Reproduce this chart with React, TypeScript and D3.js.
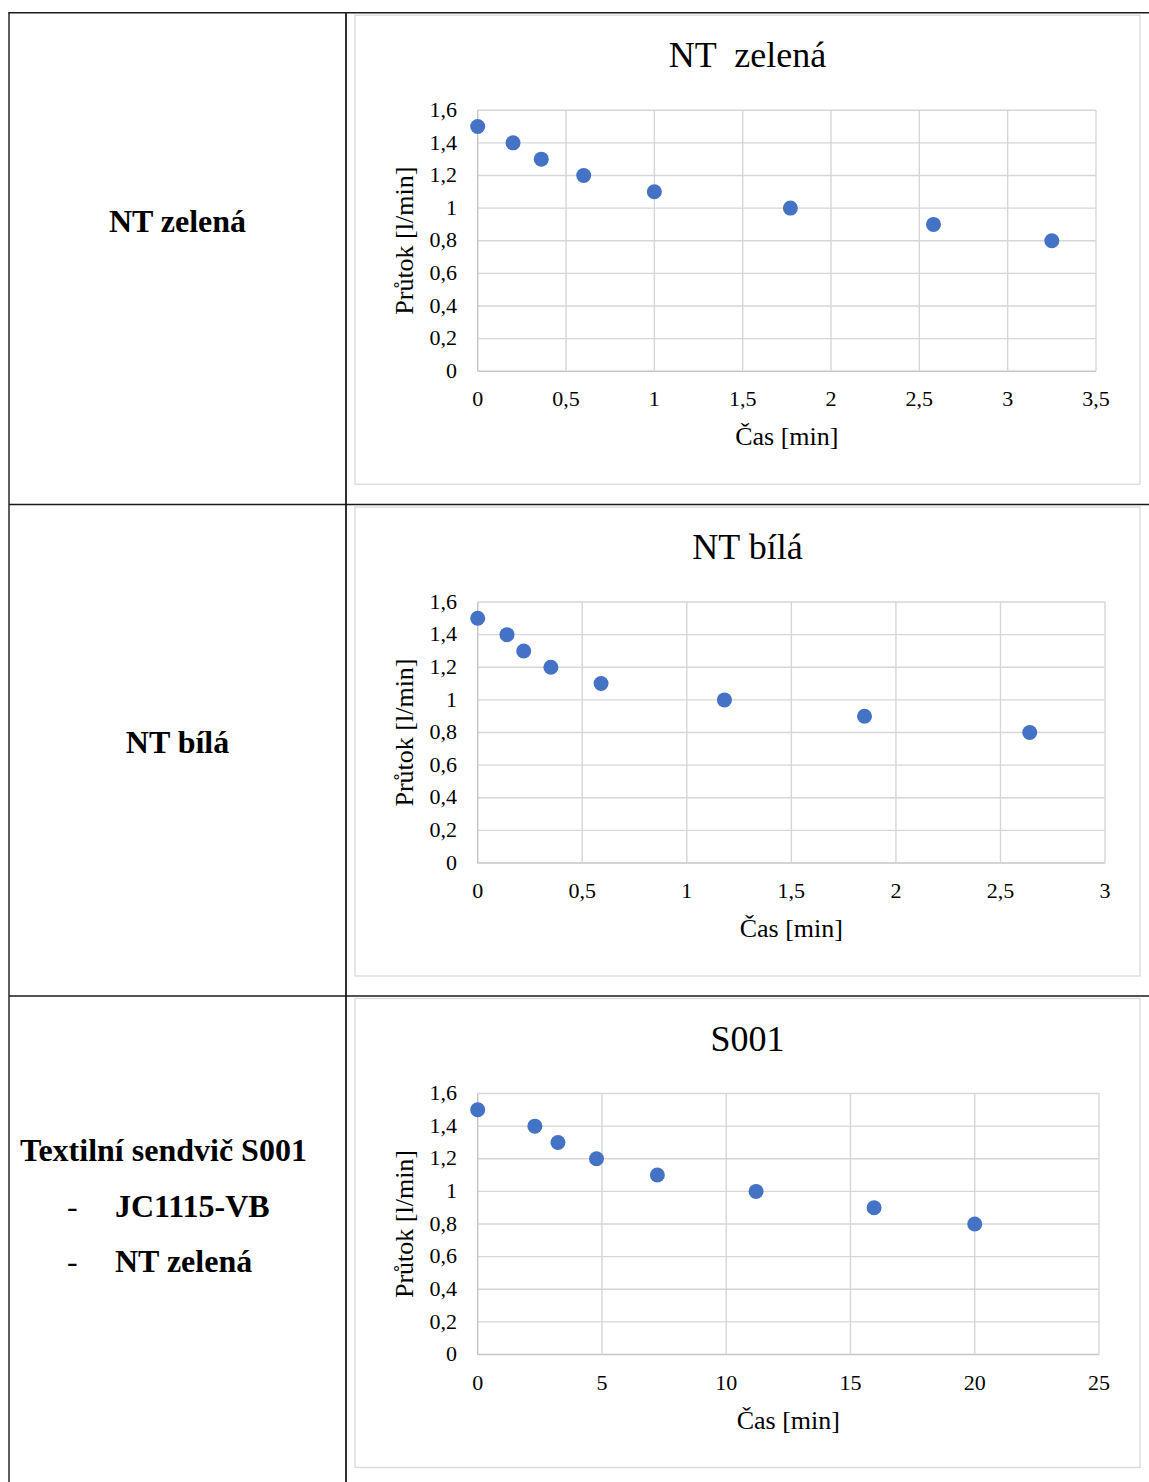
import React from "react";
import * as d3 from "d3";

// ---- data ----
const rowLabels = ["NT zelená", "NT bílá", "Textilní sendvič S001"];
const row3SubItems = ["JC1115-VB", "NT zelená"];

const chartTitles = ["NT  zelená", "NT bílá", "S001"];
const xAxisTitle = "Čas [min]";
const yAxisTitle = "Průtok [l/min]";

const flowValues = [1.5, 1.4, 1.3, 1.2, 1.1, 1.0, 0.9, 0.8];
const timeNTzelena = [0, 0.2, 0.36, 0.6, 1.0, 1.77, 2.58, 3.25];
const timeNTbila = [0, 0.14, 0.22, 0.35, 0.59, 1.18, 1.85, 2.64];
const timeS001 = [0, 2.3, 3.23, 4.78, 7.23, 11.2, 15.95, 20.0];

const xMaxes = [3.5, 3, 25];
const xTicks1 = [0, 0.5, 1, 1.5, 2, 2.5, 3, 3.5];
const xTicks2 = [0, 0.5, 1, 1.5, 2, 2.5, 3];
const xTicks3 = [0, 5, 10, 15, 20, 25];
const yTicks = [0, 0.2, 0.4, 0.6, 0.8, 1, 1.2, 1.4, 1.6];

const seriesTimes = [timeNTzelena, timeNTbila, timeS001];
const seriesXTicks = [xTicks1, xTicks2, xTicks3];

// ---- layout ----
const W = 1149;
const H = 1482;
const tableLeft = 9;
const tableTop = 12.7;
const colDivider = 346;
const rowDividers = [504.5, 996];
const rowTops = [tableTop, 504.5, 996];
const plotRights = [1096, 1105, 1099];
const SERIF = "'Liberation Serif', 'Times New Roman', serif";
const fmt = (d: number) => String(d).replace(".", ",");

function Chart({ idx }: { idx: number }) {
  const boxTop = rowTops[idx] + 2.5;
  const boxLeft = 355;
  const boxRight = 1140;
  const boxH = 469;
  const plotLeft = 477.7;
  const plotRight = plotRights[idx];
  const plotTop = boxTop + 95;
  const plotBottom = boxTop + 356;
  const x = d3.scaleLinear().domain([0, xMaxes[idx]]).range([plotLeft, plotRight]);
  const y = d3.scaleLinear().domain([0, 1.6]).range([plotBottom, plotTop]);
  const xt = seriesXTicks[idx];
  const times = seriesTimes[idx];
  const grid = "#d6d6d6";
  return (
    <g>
      <rect x={boxLeft} y={boxTop} width={boxRight - boxLeft} height={boxH} fill="#fff" stroke="#d9d9d9" strokeWidth={1.3} />
      <text x={(boxLeft + boxRight) / 2} y={boxTop + 52} textAnchor="middle" fontFamily={SERIF} fontSize={36} fill="#000" xmlSpace="preserve" style={{ whiteSpace: "pre" }}>
        {chartTitles[idx]}
      </text>
      {yTicks.map((t) => (
        <line key={"h" + t} x1={plotLeft} x2={plotRight} y1={y(t)} y2={y(t)} stroke={t === 0 ? "#c6c6c6" : grid} strokeWidth={1.4} />
      ))}
      {xt.map((t) => (
        <line key={"v" + t} x1={x(t)} x2={x(t)} y1={plotTop} y2={plotBottom} stroke={t === 0 ? "#c6c6c6" : grid} strokeWidth={1.4} />
      ))}
      {yTicks.map((t) => (
        <text key={"yl" + t} x={457} y={y(t) + 6.7} textAnchor="end" fontFamily={SERIF} fontSize={22} fill="#000">
          {fmt(t)}
        </text>
      ))}
      {xt.map((t) => (
        <text key={"xl" + t} x={x(t)} y={plotBottom + 35} textAnchor="middle" fontFamily={SERIF} fontSize={22} fill="#000">
          {fmt(t)}
        </text>
      ))}
      <text x={(plotLeft + plotRight) / 2} y={plotBottom + 74} textAnchor="middle" fontFamily={SERIF} fontSize={26} fill="#000">
        {xAxisTitle}
      </text>
      <text transform={`translate(413,${(plotTop + plotBottom) / 2}) rotate(-90)`} textAnchor="middle" fontFamily={SERIF} fontSize={26} fill="#000">
        {yAxisTitle}
      </text>
      {times.map((t, i) => (
        <circle key={"p" + i} cx={x(t)} cy={y(flowValues[i])} r={7.5} fill="#4472C4" />
      ))}
    </g>
  );
}

export default function App() {
  const lineColor = "#1a1a1a";
  return (
    <svg width={W} height={H} style={{ position: "absolute", left: 0, top: 0, display: "block", background: "#fff" }}>
      <rect x={0} y={0} width={W} height={H} fill="#fff" />
      {[0, 1, 2].map((i) => (
        <Chart key={i} idx={i} />
      ))}
      {/* table borders */}
      <line x1={tableLeft - 0.7} x2={W} y1={tableTop} y2={tableTop} stroke={lineColor} strokeWidth={1.4} />
      <line x1={tableLeft} x2={tableLeft} y1={tableTop} y2={H} stroke={lineColor} strokeWidth={1.4} />
      <line x1={colDivider} x2={colDivider} y1={tableTop} y2={H} stroke={lineColor} strokeWidth={1.8} />
      {rowDividers.map((r) => (
        <line key={r} x1={tableLeft} x2={W} y1={r} y2={r} stroke={lineColor} strokeWidth={1.4} />
      ))}
      {/* row labels */}
      <text x={177.5} y={232} textAnchor="middle" fontFamily={SERIF} fontWeight="bold" fontSize={32} fill="#000">
        {rowLabels[0]}
      </text>
      <text x={177.5} y={753} textAnchor="middle" fontFamily={SERIF} fontWeight="bold" fontSize={32} fill="#000">
        {rowLabels[1]}
      </text>
      <text x={20} y={1161} fontFamily={SERIF} fontWeight="bold" fontSize={32} fill="#000">
        {rowLabels[2]}
      </text>
      {row3SubItems.map((s, i) => (
        <g key={s}>
          <text x={67} y={1217 + i * 55} fontFamily={SERIF} fontSize={32} fill="#000">-</text>
          <text x={115} y={1217 + i * 55} fontFamily={SERIF} fontWeight="bold" fontSize={32} fill="#000">
            {s}
          </text>
        </g>
      ))}
    </svg>
  );
}
